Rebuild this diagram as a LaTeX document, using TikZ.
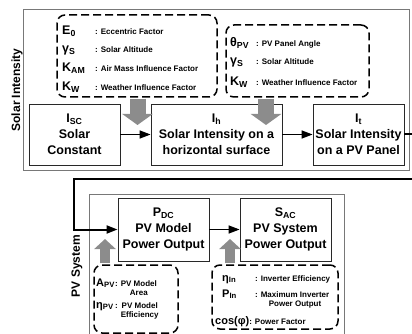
\documentclass[tikz,border=0pt]{standalone}
\usepackage{fontspec}
\setmainfont{Liberation Sans}
\usetikzlibrary{arrows.meta,positioning,calc}
\definecolor{siFrame}{RGB}{120,120,120}
\definecolor{siBox}  {RGB}{ 40, 40, 40}
\definecolor{siGray} {RGB}{140,140,140}
\newcommand{\psym}[1]{{\fontsize{12.5}{13}\selectfont #1}}
\newcommand{\psmall}[1]{{\fontsize{11}{12}\selectfont #1}}
\newcommand{\pdesc}[1]{{\fontsize{8}{9}\selectfont #1}}
\newcommand{\prm}[3]{\makebox[#1][l]{\psym{#2}}\pdesc{#3}}
\newcommand{\prmS}[3]{\makebox[#1][l]{\psmall{#2}}\pdesc{#3}}

\begin{document}
\begin{tikzpicture}[x=1pt,y=-1pt,
  every node/.style={font=\bfseries,inner sep=0pt},
  >={Triangle[length=11pt,width=8pt]},
  block/.style={draw=siBox,line width=0.8pt,minimum width=91pt,minimum height=61pt,
                align=center,font=\fontsize{12.5}{16}\selectfont\bfseries},
  frame/.style={draw=siFrame,line width=0.8pt},
  params/.style={draw=black,line width=1.5pt,dash pattern=on 8pt off 4pt,
                 rounded corners=8pt},
  fat/.style={draw=siGray,line width=16pt,shorten <=1pt,
              -{Triangle[length=11pt,width=30pt]}},
  slim/.style={line width=10pt,-{Triangle[length=10pt,width=21pt]}},
  flow/.style={line width=1.5pt,->},
  prow/.style={anchor=base west},
  lbl/.style={rotate=90,font=\fontsize{12}{14}\selectfont\bfseries}
]
\useasboundingbox (0,0) rectangle (412,334);
\clip (0,0) rectangle (412,334);

% frames
\draw[frame] (23,9) rectangle (409,170);
\draw[frame] (89,340) -- (89,194) -- (344,194) -- (344,340);
\node[lbl] (siLabel) at (17,90)  {Solar Intensity};
\node[lbl] (pvLabel) at (77,266) {PV System};

% solar intensity
\node[block] (isc) at (74.5,134.5)  {I\textsubscript{SC}\\Solar\\Constant};
\node[block,minimum width=131pt] (ih) at (216.5,134.5)
      {I\textsubscript{h}\\Solar Intensity on a\\horizontal surface};
\node[block] (it)  at (358.5,134.5) {I\textsubscript{t}\\Solar Intensity\\on a PV Panel};

\node[params,minimum width=160pt,minimum height=82pt] (parA) at (137,56) {};
\node[params,minimum width=143pt,minimum height=72pt] (parB) at (297.5,61) {};
\node[prow] (rE0)  at (62,35) {\prm{33pt}{E\textsubscript{0}}{: Eccentric Factor}};
\node[prow] (rGs)  at (62,53) {\prm{33pt}{γ\textsubscript{S}}{: Solar Altitude}};
\node[prow] (rKam) at (62,72) {\prm{33pt}{K\textsubscript{AM}}{: Air Mass Influence Factor}};
\node[prow] (rKw)  at (62,91) {\prm{33pt}{K\textsubscript{W}}{: Weather Influence Factor}};
\node[prow] (rTh)  at (230,47) {\prm{26pt}{θ\textsubscript{PV}}{: PV Panel Angle}};
\node[prow] (rGs2) at (230,65) {\prm{26pt}{γ\textsubscript{S}}{: Solar Altitude}};
\node[prow] (rKw2) at (230,86) {\prm{26pt}{K\textsubscript{W}}{: Weather Influence Factor}};

\coordinate (tipA) at (137.5,125);
\coordinate (tipB) at (266,125);
\draw[fat] (parA.south -| tipA) -- (tipA);
\draw[fat] (parB.south -| tipB) -- (tipB);
\draw[flow] (isc) -- (ih);
\draw[flow] (ih) -- (it);

% pv system
\node[block,minimum height=63pt] (pdc) at (163.5,229.5) {P\textsubscript{DC}\\PV Model\\Power Output};
\node[block,minimum height=63pt] (sac) at (285.5,229.5) {S\textsubscript{AC}\\PV System\\Power Output};

\node[params,minimum width=84pt,minimum height=68pt]  (parC) at (136,299) {};
\node[params,minimum width=126pt,minimum height=64pt] (parD) at (275,297) {};
\node[prow] (rApv) at (96,286)
  {\prmS{19pt}{A\textsubscript{PV}}{: \begin{tabular}[t]{@{}c@{}}PV Model\\Area\end{tabular}}};
\node[prow] (rEpv) at (96,308)
  {\prmS{19pt}{η\textsubscript{PV}}{: \begin{tabular}[t]{@{}c@{}}PV Model\\Efficiency\end{tabular}}};
\node[prow] (rEin) at (222,281) {\prmS{33pt}{η\textsubscript{In}}{: Inverter Efficiency}};
\node[prow] (rPin) at (222,297)
  {\prmS{33pt}{P\textsubscript{In}}{: \begin{tabular}[t]{@{}c@{}}Maximum Inverter\\Power Output\end{tabular}}};
\node[prow] (rCos) at (215,324) {\psmall{cos(φ)}\pdesc{: Power Factor}};

\coordinate (tipC) at (105,239);
\coordinate (tipD) at (230,239);
\draw[fat,slim] (parC.north -| tipC) -- (tipC);
\draw[fat,slim] (parD.north -| tipD) -- (tipD);
\draw[flow] (pdc) -- (sac);

% feedback
\coordinate (fbR) at (414,179);
\coordinate (fbL) at (74,179);
\draw[flow,line width=2pt] (it.east) -| (fbR) -- (fbL) |- (pdc.west);
\end{tikzpicture}
\end{document}
